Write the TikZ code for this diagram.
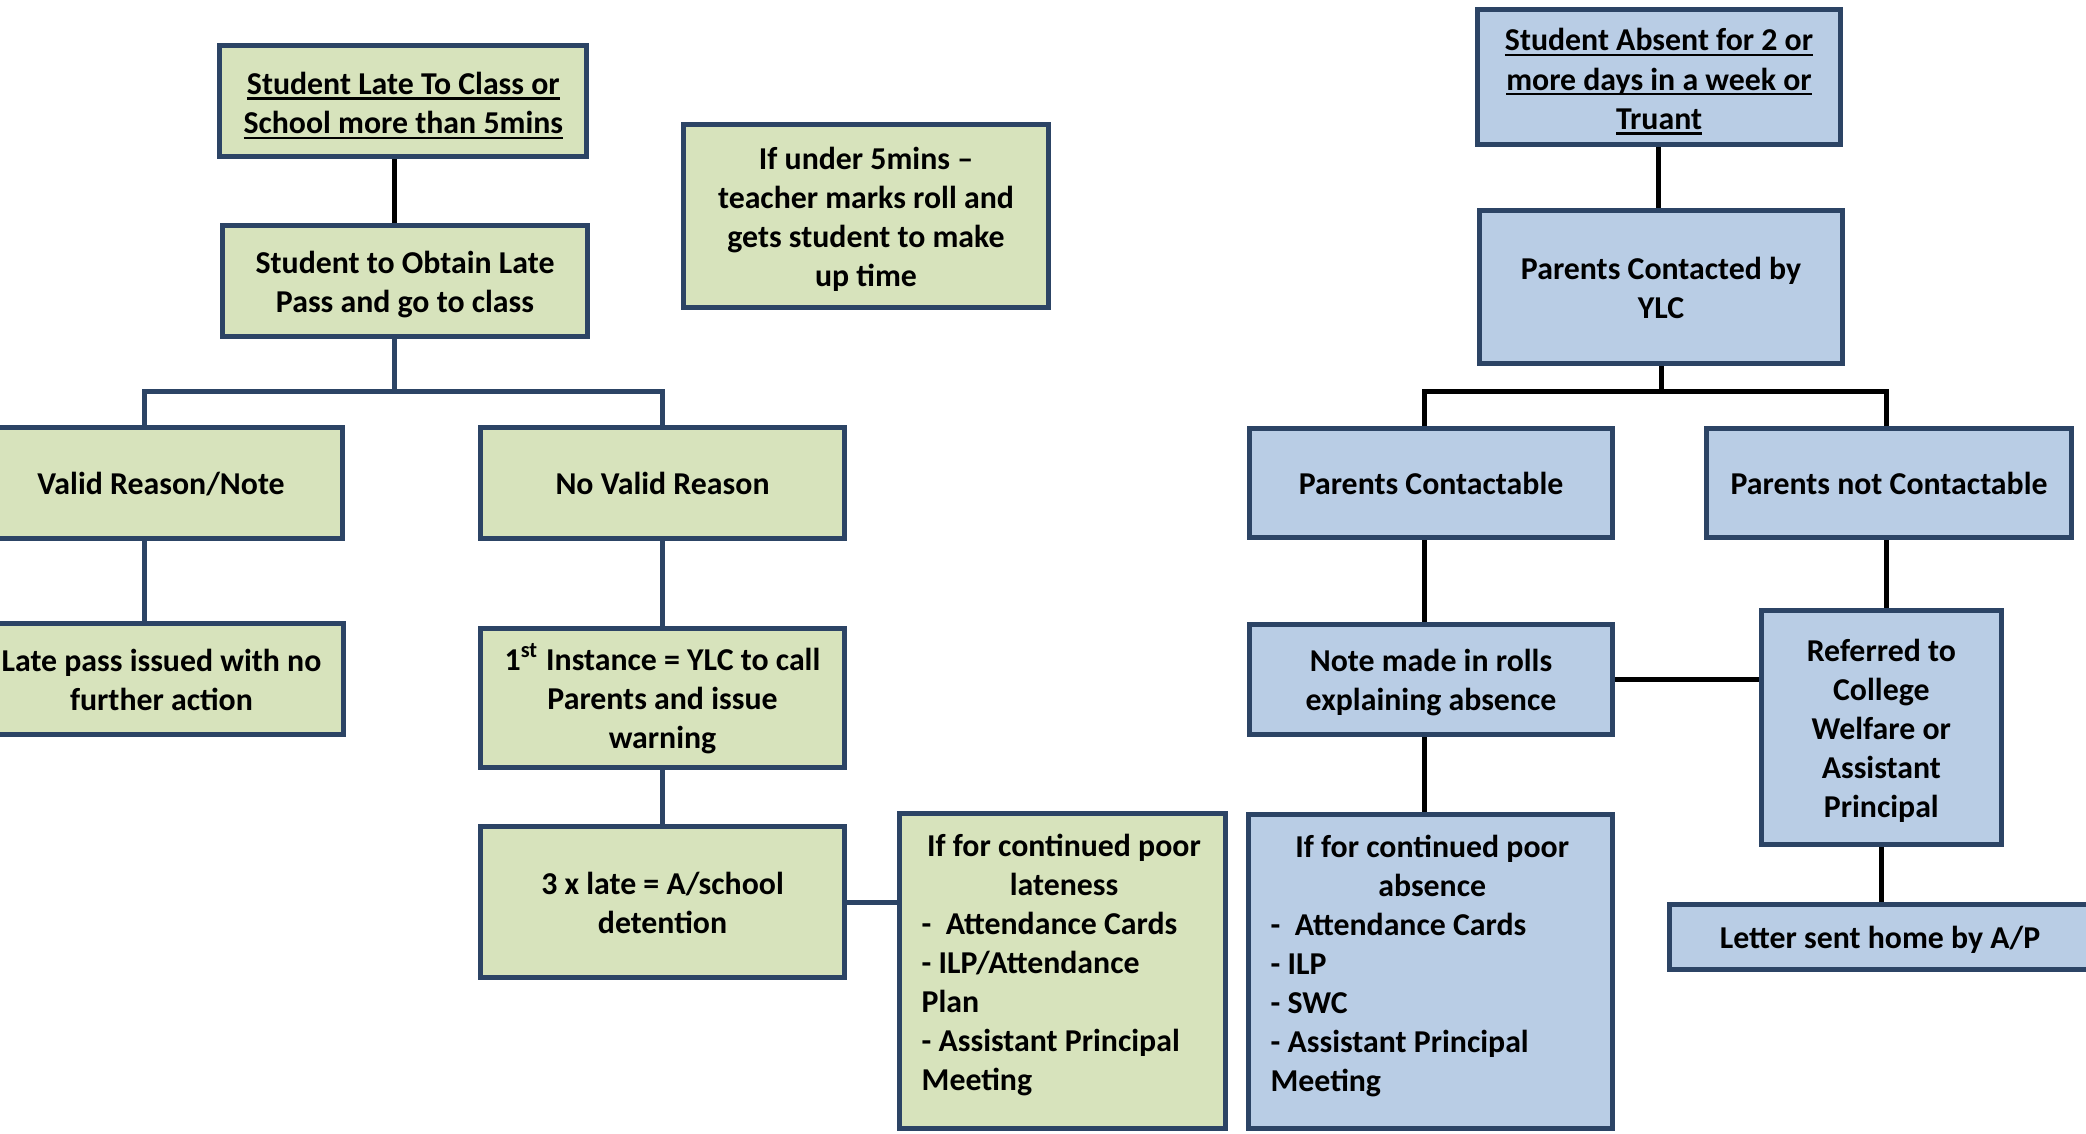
\documentclass[tikz,border=0pt]{standalone}
\usepackage{fontspec}
\setmainfont{Carlito}
\definecolor{navy}{HTML}{2C4465}
\definecolor{gfill}{HTML}{D7E3BC}
\definecolor{bfill}{HTML}{B9CDE5}
\newcommand{\ulx}[1]{\setbox0\hbox{#1}\rlap{\rule[-1.55pt]{\wd0}{0.7pt}}\box0}
\newcommand{\ts}{\rule{0pt}{8.8pt}}
\newcommand{\tsu}{\rule{0pt}{9.6pt}}
\newcommand{\bs}{\rule[-2.2pt]{0pt}{2.2pt}}
\newcommand{\ctrline}[1]{\makebox[\hsize][c]{#1}}
\tikzset{
  boxbase/.style={draw=navy, line width=0.05cm, inner sep=0pt, align=center,
    font=\fontsize{9.05pt}{11.1pt}\selectfont\bfseries},
  gbox/.style={boxbase, fill=gfill},
  bbox/.style={boxbase, fill=bfill},
  btext/.style={anchor=north west, inner sep=0pt, align=flush left,
    font=\fontsize{9.05pt}{11.1pt}\selectfont\bfseries},
  nline/.style={draw=navy, line width=0.05cm},
  kline/.style={draw=black, line width=0.05cm},
}
\begin{document}
\begin{tikzpicture}[x=0.01cm, y=-0.01cm]
\useasboundingbox (0,0) rectangle (2086,1133);
\clip (0,0) rectangle (2086,1133);
\fill[white] (0,0) rectangle (2086,1133);

% ---------- left tree ----------
\node[gbox, minimum width=3.665cm, minimum height=1.11cm] (late1) at (403.3,101)
  {\tsu\ulx{Student Late To Class or}\\\ulx{School more than 5mins}\bs};
\node[gbox, minimum width=3.65cm, minimum height=1.11cm] (late2) at (405,281)
  {\ts Student to Obtain Late\\Pass and go to class\bs};
\node[gbox, minimum width=3.635cm, minimum height=1.11cm] (valid) at (161,483)
  {\ts Valid Reason/Note\bs};
\node[gbox, minimum width=3.64cm, minimum height=1.11cm] (novalid) at (662.5,483)
  {\ts No Valid Reason\bs};
\node[gbox, minimum width=3.64cm, minimum height=1.11cm] (latepass) at (161.5,679)
  {\ts Late pass issued with no\\further action\bs};
\node[gbox, minimum width=3.64cm, minimum height=1.39cm] (first) at (662.5,698)
  {\ts 1\textsuperscript{st} Instance = YLC to call\\Parents and issue\\warning\bs};
\node[gbox, minimum width=3.64cm, minimum height=1.505cm] (three) at (662.5,902)
  {\ts 3 x late = A/school\\detention\bs};
\node[gbox, minimum width=3.255cm, minimum height=3.145cm] (lateness) at (1062.3,971.3) {};
\node[btext, text width=2.845cm] (latenesstext) at ([xshift=0.24cm, yshift=-0.22cm]lateness.north west)
  {\ctrline{If for continued poor}\\
   \ctrline{lateness}\\
   -\ \ Attendance Cards\\
   - ILP/Attendance\\
   Plan\\
   - Assistant Principal\\
   Meeting};
\node[gbox, minimum width=3.65cm, minimum height=1.83cm] (under5) at (866,216)
  {\ts If under 5mins –\\teacher marks roll and\\gets student to make\\up time\bs};

\coordinate (j1) at (394,391);
\coordinate (jL) at (144,391);
\coordinate (jR) at (662,391);
\draw[kline] (late1.south -| j1) -- (late2.north -| j1);
\draw[nline] (late2.south -| j1) -- (j1);
\draw[nline] (valid.north -| jL) -- (jL) -- (jR) -- (novalid.north -| jR);
\draw[nline] (valid.south -| jL) -- (latepass.north -| jL);
\draw[nline] (novalid.south) -- (first.north);
\draw[nline] (first.south) -- (three.north);
\draw[nline] (three.east) -- (three.east -| lateness.west);

% ---------- right tree ----------
\node[bbox, minimum width=3.634cm, minimum height=1.356cm] (absent) at (1659,77)
  {\tsu\ulx{Student Absent for 2 or}\\\ulx{more days in a week or}\\\ulx{Truant}\bs};
\node[bbox, minimum width=3.63cm, minimum height=1.53cm] (contacted) at (1661,287)
  {\ts Parents Contacted by\\YLC\bs};
\node[bbox, minimum width=3.63cm, minimum height=1.09cm] (contactable) at (1431,483)
  {\ts Parents Contactable\bs};
\node[bbox, minimum width=3.64cm, minimum height=1.09cm] (notcontact) at (1889,483)
  {\ts Parents not Contactable\bs};
\node[bbox, minimum width=3.63cm, minimum height=1.10cm] (note) at (1431,679.5)
  {\ts Note made in rolls\\explaining absence\bs};
\node[bbox, minimum width=2.395cm, minimum height=2.34cm] (referred) at (1881.3,727.5)
  {\ts Referred to\\College\\Welfare or\\Assistant\\Principal\bs};
\node[bbox, minimum width=4.21cm, minimum height=0.65cm] (letter) at (1880,937)
  {\ts Letter sent home by A/P\bs};
\node[bbox, minimum width=3.64cm, minimum height=3.14cm] (absence) at (1430.5,971.5) {};
\node[btext, text width=3.23cm] (absencetext) at ([xshift=0.24cm, yshift=-0.22cm]absence.north west)
  {\ctrline{If for continued poor}\\
   \ctrline{absence}\\
   -\ \ Attendance Cards\\
   - ILP\\
   - SWC\\
   - Assistant Principal\\
   Meeting};

\coordinate (jC) at (1661,391);
\coordinate (jCL) at (1424,391);
\coordinate (jCR) at (1886,391);
\coordinate (jA) at (1658,0);
\draw[kline] (absent.south -| jA) -- (contacted.north -| jA);
\draw[kline] (contacted.south -| jC) -- (jC);
\draw[kline] (contactable.north -| jCL) -- (jCL) -- (jCR) -- (notcontact.north -| jCR);
\draw[kline] (contactable.south -| jCL) -- (note.north -| jCL);
\draw[kline] (note.south -| jCL) -- (absence.north -| jCL);
\draw[kline] (notcontact.south -| jCR) -- (referred.north -| jCR);
\draw[kline] (referred.south) -- (referred.south |- letter.north);
\draw[kline] (note.east) -- (note.east -| referred.west);
\end{tikzpicture}
\end{document}
